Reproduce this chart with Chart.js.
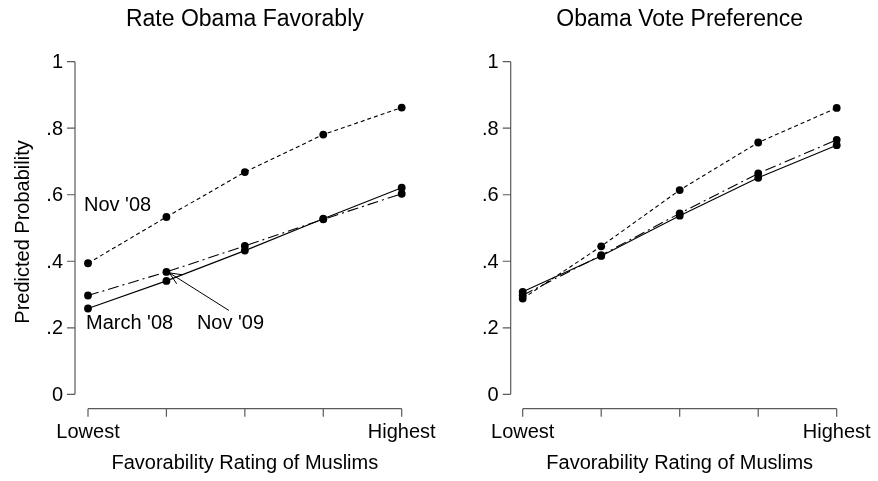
<!DOCTYPE html>
<html>
<head>
<meta charset="utf-8">
<script src="https://cdn.jsdelivr.net/npm/chart.js@4.4.1/dist/chart.umd.min.js"></script>
<style>
  html, body { margin: 0; padding: 0; background: #fff; }
  #wrap { position: relative; width: 878px; height: 481px; }
  .panel { position: absolute; top: 0; }
</style>
</head>
<body>
<div id="wrap">
  <div class="panel" style="left:0px"><canvas id="fav" width="440" height="481"></canvas></div>
  <div class="panel" style="left:440px"><canvas id="vote" width="438" height="481"></canvas></div>
</div>
<script>
// Quintiles of the Muslim favorability rating
const categories = [1, 2, 3, 4, 5];
const xTickLabels = ['Lowest', '', '', '', 'Highest'];
const yTickValues = [0, 0.2, 0.4, 0.6, 0.8, 1];
const yTickLabels = ['0', '.2', '.4', '.6', '.8', '1'];

// Rate Obama favorably
const favMarch08 = [0.258, 0.341, 0.432, 0.528, 0.621];
const favNov08   = [0.394, 0.533, 0.668, 0.781, 0.862];
const favNov09   = [0.297, 0.368, 0.446, 0.526, 0.603];

// Obama vote preference
const voteMarch08 = [0.308, 0.416, 0.537, 0.651, 0.749];
const voteNov08   = [0.288, 0.445, 0.614, 0.757, 0.861];
const voteNov09   = [0.298, 0.418, 0.544, 0.664, 0.765];

const FONT = '"Liberation Sans", Arial, Helvetica, sans-serif';
const AXIS_COLOR = '#5a5a5a';

function series(label, data, dash) {
  return {
    label, data,
    borderColor: '#000', backgroundColor: '#000',
    borderWidth: 1.1, borderDash: dash,
    pointRadius: 3.9, pointHoverRadius: 3.9, pointBorderWidth: 0,
    tension: 0, clip: false
  };
}

// R-style detached axes, titles and labels drawn with the chart's scales
const framePlugin = {
  id: 'frame',
  beforeDatasetsDraw(chart, args, opts) {
    const ctx = chart.ctx;
    const xs = chart.scales.x, ys = chart.scales.y;
    const yTop = ys.getPixelForValue(1), yBot = ys.getPixelForValue(0);
    const xL = xs.getPixelForValue(0), xR = xs.getPixelForValue(categories.length - 1);
    const yAxisX = xL - opts.yAxisGap;
    const xAxisY = yBot + 14.4;
    ctx.save();
    ctx.strokeStyle = AXIS_COLOR;
    ctx.lineWidth = 1.2;
    // y axis
    ctx.beginPath();
    ctx.moveTo(yAxisX, yTop); ctx.lineTo(yAxisX, yBot);
    yTickValues.forEach(v => {
      const py = ys.getPixelForValue(v);
      ctx.moveTo(yAxisX, py); ctx.lineTo(yAxisX - 8, py);
    });
    // x axis
    ctx.moveTo(xL, xAxisY); ctx.lineTo(xR, xAxisY);
    categories.forEach((c, i) => {
      const px = xs.getPixelForValue(i);
      ctx.moveTo(px, xAxisY); ctx.lineTo(px, xAxisY + 8);
    });
    ctx.stroke();

    ctx.fillStyle = '#000';
    ctx.font = '20px ' + FONT;
    ctx.textAlign = 'right';
    ctx.textBaseline = 'middle';
    yTickValues.forEach((v, i) => {
      ctx.fillText(yTickLabels[i], yAxisX - 12, ys.getPixelForValue(v) + 1);
    });
    ctx.textAlign = 'center';
    xTickLabels.forEach((t, i) => {
      if (t) ctx.fillText(t, xs.getPixelForValue(i), xAxisY + 24);
    });
    const xMid = (xL + xR) / 2;
    ctx.fillText('Favorability Rating of Muslims', xMid, xAxisY + 55);
    ctx.font = '23px ' + FONT;
    ctx.fillText(opts.title, xMid, 20);
    if (opts.yTitle) {
      ctx.save();
      ctx.translate(23, (yTop + yBot) / 2 + 4);
      ctx.rotate(-Math.PI / 2);
      ctx.font = '20px ' + FONT;
      ctx.fillText(opts.yTitle, 0, 0);
      ctx.restore();
    }
    ctx.restore();
  },
  afterDatasetsDraw(chart, args, opts) {
    if (!opts.notes) return;
    const ctx = chart.ctx;
    const xs = chart.scales.x, ys = chart.scales.y;
    ctx.save();
    ctx.fillStyle = '#000';
    ctx.strokeStyle = '#000';
    ctx.font = '20px ' + FONT;
    ctx.textAlign = 'left';
    ctx.textBaseline = 'middle';
    opts.notes.forEach(n => {
      const px = xs.getPixelForValue(n.at[0]) + n.dx;
      const py = ys.getPixelForValue(n.at[1]);
      ctx.fillText(n.text, px, py);
      if (n.arrowTo) {
        const tx = xs.getPixelForValue(n.arrowTo[0]) + 3;
        const ty = ys.getPixelForValue(n.arrowTo[1]) + 1;
        const sx = px + 32, sy = py - 13;
        ctx.lineWidth = 1;
        ctx.beginPath();
        ctx.moveTo(sx, sy); ctx.lineTo(tx, ty);
        const ang = Math.atan2(sy - ty, sx - tx);
        [-0.42, 0.42].forEach(d => {
          ctx.moveTo(tx, ty);
          ctx.lineTo(tx + 13 * Math.cos(ang + d), ty + 13 * Math.sin(ang + d));
        });
        ctx.stroke();
      }
    });
    ctx.restore();
  }
};

function makeChart(id, pad, data3, frameOpts) {
  return new Chart(document.getElementById(id), {
    type: 'line',
    data: {
      labels: categories,
      datasets: [
        series("March '08", data3[0], []),
        series("Nov '08", data3[1], [4, 3]),
        series("Nov '09", data3[2], [11, 4, 2, 4])
      ]
    },
    options: {
      responsive: false,
      animation: false,
      events: [],
      layout: { padding: pad },
      scales: {
        x: { type: 'category', offset: false, display: false },
        y: { type: 'linear', min: 0, max: 1, display: false }
      },
      plugins: {
        legend: { display: false },
        tooltip: { enabled: false },
        frame: frameOpts
      }
    },
    plugins: [framePlugin]
  });
}

makeChart('fav', { left: 88, right: 38.3, top: 61.7, bottom: 86.7 },
  [favMarch08, favNov08, favNov09],
  {
    title: 'Rate Obama Favorably',
    yTitle: 'Predicted Probability',
    yAxisGap: 13,
    notes: [
      { text: "Nov '08", at: [0, 0.568], dx: -4 },
      { text: "March '08", at: [0, 0.213], dx: -2 },
      { text: "Nov '09", at: [1, 0.213], dx: 30.5, arrowTo: [1, favNov09[1]] }
    ]
  });

makeChart('vote', { left: 82.7, right: 41.3, top: 61.7, bottom: 86.7 },
  [voteMarch08, voteNov08, voteNov09],
  { title: 'Obama Vote Preference', yAxisGap: 12 });
</script>
</body>
</html>
